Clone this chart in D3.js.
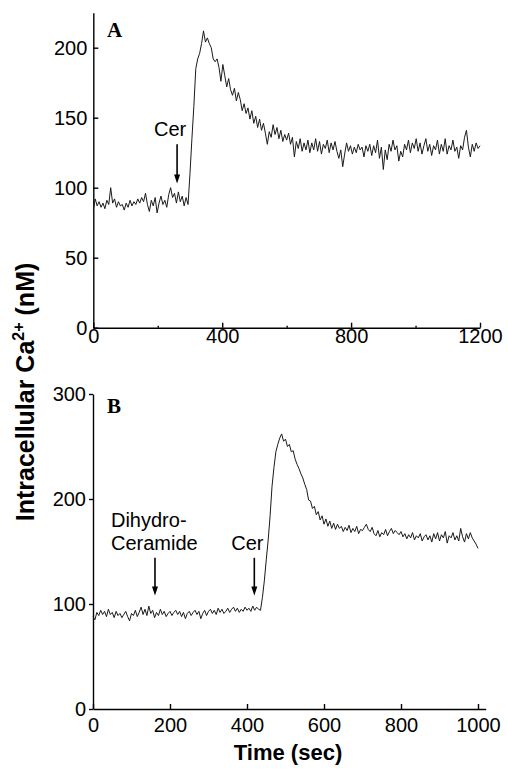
<!DOCTYPE html>
<html>
<head>
<meta charset="utf-8">
<script src="https://cdn.jsdelivr.net/npm/d3@7"></script>
<style>
  html, body { margin: 0; padding: 0; background: #fff; }
  svg { display: block; }
  text { fill: #000; }
</style>
</head>
<body>
<svg id="chart" width="507" height="770"></svg>
<script>
// Panel A: ceramide alone. Readings every 6 s from 0 to 1200 s (nM)
const stepA = 6;
const caA = [
  84, 92, 87, 90, 86, 89, 85, 91, 88, 100, 89, 92, 86, 90, 87, 88, 84, 89, 86, 91,
  87, 90, 88, 92, 89, 93, 90, 96, 88, 83, 91, 87, 93, 82, 89, 94, 88, 91, 86, 95,
  100, 93, 96, 89, 97, 90, 94, 87, 93, 88, 110, 135, 158, 185, 192, 196, 203, 212, 204, 207,
  203, 200, 192, 190, 192, 186, 176, 188, 180, 172, 178, 170, 166, 171, 162, 168, 163, 155, 160, 153,
  157, 149, 155, 146, 151, 143, 149, 141, 146, 139, 131, 140, 136, 145, 138, 143, 135, 141, 133, 138,
  134, 139, 131, 136, 122, 133, 128, 135, 126, 132, 127, 134, 125, 132, 127, 135, 126, 133, 124, 131,
  128, 134, 125, 132, 127, 133, 126, 121, 127, 115, 124, 132, 126, 130, 124, 129, 125, 131, 127, 129,
  122, 130, 126, 131, 123, 130, 125, 134, 121, 129, 113, 127, 120, 131, 126, 134, 127, 130, 119, 126,
  122, 131, 127, 134, 125, 132, 128, 135, 126, 132, 124, 130, 135, 126, 131, 123, 130, 127, 134, 124,
  131, 126, 135, 124, 130, 127, 134, 126, 129, 121, 130, 127, 136, 141, 129, 122, 131, 126, 132, 128,
  130
];

// Panel B: dihydroceramide, then ceramide. Readings every 5 s from 0 to 1000 s (nM)
const stepB = 5;
const caB = [
  88, 85, 92, 89, 94, 90, 93, 88, 95, 90, 92, 87, 93, 89, 91, 87, 90, 93, 88, 84,
  91, 89, 94, 88, 92, 97, 90, 95, 89, 98, 91, 94, 87, 92, 89, 95, 90, 93, 88, 91,
  93, 89, 92, 94, 90, 93, 88, 92, 86, 91, 93, 89, 92, 94, 90, 93, 86, 91, 94, 89,
  93, 95, 91, 94, 90, 96, 92, 95, 91, 93, 96, 92, 95, 97, 93, 96, 92, 95, 93, 97,
  94, 96, 93, 98, 94, 97, 95, 94, 106, 122, 142, 161, 184, 212, 230, 245, 252, 258, 262, 255,
  257, 250, 252, 245, 246, 238, 233, 229, 224, 220, 214, 209, 199, 198, 191, 193, 185, 188, 180, 184,
  176, 181, 174, 179, 172, 177, 171, 176, 172, 174, 169, 173, 170, 175, 168, 172, 169, 174, 167, 171,
  170, 173, 176, 171, 169, 173, 167, 165, 170, 164, 168, 166, 171, 165, 169, 172, 167, 170, 168, 166,
  169, 164, 167, 162, 166, 163, 168, 161, 165, 163, 167, 160, 164, 166, 161, 165, 159, 167, 162, 168,
  160, 166, 163, 169, 158, 165, 163, 168, 161, 165, 160, 172, 164, 159, 167, 162, 168, 163, 160, 157,
  153
];

// agonist additions (s)
const addsA = [{ t: 260, lines: ["Cer"] }];
const addsB = [{ t: 161, lines: ["Dihydro-", "Ceramide"] }, { t: 419, lines: ["Cer"] }];

const ticksAx = [0, 400, 800, 1200];
const minorAx = [200, 600, 1000];
const ticksAy = [0, 50, 100, 150, 200];
const ticksBx = [0, 200, 400, 600, 800, 1000];
const ticksBy = [0, 100, 200, 300];

const sans = "Liberation Sans, Arial, Helvetica, sans-serif";
const svg = d3.select("#chart");
const seriesA = caA.map((v, i) => ({ t: i * stepA, v }));
const seriesB = caB.map((v, i) => ({ t: i * stepB, v }));

function panel(cfg) {
  const g = svg.append("g");
  const x = cfg.x, y = cfg.y;

  g.append("g")
    .attr("transform", `translate(0,${y(0)})`)
    .call(d3.axisBottom(x).tickValues(cfg.xt).tickFormat(d3.format("d"))
      .tickSizeInner(-5).tickSizeOuter(0).tickPadding(cfg.xpad));
  if (cfg.minor) {
    g.append("g")
      .attr("transform", `translate(0,${y(0)})`)
      .call(d3.axisBottom(x).tickValues(cfg.minor).tickSizeInner(-2).tickSizeOuter(0).tickFormat(""))
      .select(".domain").remove();
  }
  g.append("g")
    .attr("transform", `translate(${x(0)},0)`)
    .call(d3.axisLeft(y).tickValues(cfg.yt).tickFormat(d3.format("d"))
      .tickSizeInner(cfg.ytick).tickSizeOuter(0).tickPadding(cfg.ypad));

  g.selectAll(".domain, .tick line").attr("stroke", "#000").attr("stroke-width", 1.4);
  g.selectAll(".tick text").style("font-size", "20px").style("font-family", sans);

  const line = d3.line().x(d => x(d.t)).y(d => y(d.v));
  g.append("path")
    .datum(cfg.data)
    .attr("d", line)
    .attr("fill", "none")
    .attr("stroke", "#1a1a1a")
    .attr("stroke-width", 1)
    .attr("stroke-linejoin", "round");

  // arrows marking additions
  cfg.adds.forEach(a => {
    const ax = x(a.t), top = y(cfg.arrow[0]), bot = y(cfg.arrow[1]);
    g.append("line")
      .attr("x1", ax).attr("x2", ax).attr("y1", top).attr("y2", bot - 7)
      .attr("stroke", "#000").attr("stroke-width", 1.6);
    g.append("path")
      .attr("d", `M${ax - 3},${bot - 9}L${ax + 3},${bot - 9}L${ax},${bot}Z`)
      .attr("fill", "#000");
    const multi = a.lines.length > 1;
    const tx = multi ? ax - 44 : ax - 7;
    const t = g.append("text")
      .style("font-family", sans).style("font-size", "20px")
      .attr("text-anchor", multi ? "start" : "middle")
      .attr("y", top - 8 - (a.lines.length - 1) * 23);
    a.lines.forEach((s, i) => {
      t.append("tspan").attr("x", tx).attr("dy", i ? 23 : 0).text(s);
    });
  });

  g.append("text")
    .attr("x", 107).attr("y", cfg.letterY)
    .style("font-family", "Liberation Serif, Times New Roman, serif")
    .style("font-weight", "bold").style("font-size", "21px")
    .text(cfg.letter);
}

panel({
  data: seriesA,
  x: d3.scaleLinear().domain([0, 1200]).range([93.3, 480]),
  y: d3.scaleLinear().domain([0, 225]).range([327.7, 12.7]),
  xt: ticksAx, minor: minorAx, yt: ticksAy,
  xpad: 1, ytick: -5, ypad: 6,
  adds: addsA, arrow: [131, 103],
  letter: "A", letterY: 37
});

panel({
  data: seriesB,
  x: d3.scaleLinear().domain([0, 1020]).range([93, 485.7]),
  y: d3.scaleLinear().domain([0, 300]).range([709, 394]),
  xt: ticksBx, minor: null, yt: ticksBy,
  xpad: 9, ytick: 4, ypad: 3,
  adds: addsB, arrow: [144, 108],
  letter: "B", letterY: 413
});

// shared axis titles
const yt = svg.append("text")
  .attr("transform", "translate(34,392) rotate(-90)")
  .attr("text-anchor", "middle")
  .style("font-family", sans).style("font-weight", "bold").style("font-size", "25px");
yt.append("tspan").text("Intracellular Ca");
yt.append("tspan").style("font-size", "16px").attr("dy", -10).text("2+");
yt.append("tspan").attr("dy", 10).text(" (nM)");

svg.append("text")
  .attr("x", 288).attr("y", 760)
  .attr("text-anchor", "middle")
  .style("font-family", sans).style("font-weight", "bold").style("font-size", "22px")
  .text("Time (sec)");
</script>
</body>
</html>
